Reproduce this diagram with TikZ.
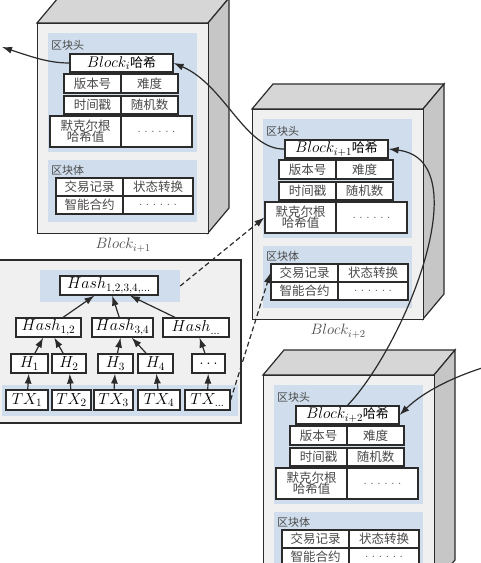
\RequirePackage{fix-cm}
\documentclass[tikz,border=0pt]{standalone}
\usepackage{fontspec}
\newfontfamily\cjk{Noto Sans CJK SC}
\usetikzlibrary{positioning,arrows.meta}

\definecolor{frontc}{HTML}{F0F0F0}
\definecolor{topc}{HTML}{D6D6D6}
\definecolor{sidec}{HTML}{C6C6C6}
\definecolor{bluec}{HTML}{CFDDEC}
\definecolor{linec}{HTML}{2B2B2B}
\definecolor{textc}{HTML}{4A4A4A}
\definecolor{panelc}{HTML}{F0F0F0}

\newcommand{\sixdots}{{\rmfamily\fontsize{15}{15}\selectfont .\hspace{3.2pt}.\hspace{3.2pt}.\hspace{3.2pt}.\hspace{3.2pt}.\hspace{3.2pt}.}}
\newcommand{\bigmath}[1]{{\fontsize{15.5}{16}\selectfont$#1$}}

% one block of the chain: x, y, name prefix, subscript of its hash
\newcommand{\chainblock}[4]{%
\begin{scope}[shift={(#1,#2)}, name prefix=#3-]
	\draw[face, fill=topc] (0,0) -- (21,-25) -- (192,-25) -- (171,0) -- cycle;
	\draw[face, fill=sidec] (171,0) -- (192,-25) -- (192,185) -- (171,210) -- cycle;
	\node[face, fill=frontc, minimum width=171, minimum height=210, anchor=north west] (front) at (0,0) {};
	\fill[bluec] (11,10) rectangle (160,129);
	\fill[bluec] (11,137) rectangle (160,199);
	
	\node[region, anchor=west] (headlab) at (14,22) {区块头};
	\node[hcell, minimum width=103] (hash) at (84.5,40) {\bigmath{Block_{#4}}哈希};
	\node[cell, minimum width=57, minimum height=19] (ver) at (55.5,60.5) {版本号};
	\node[cell, minimum width=57, minimum height=19] (diff) at (112.5,60.5) {难度};
	\node[cell, minimum width=57] (time) at (55.5,82) {时间戳};
	\node[cell, minimum width=57] (nonce) at (112.5,82) {随机数};
	\node[cell, minimum width=71, minimum height=31, align=center] (merkle) at (48.5,108.5) {默克尔根\\[-2pt]哈希值};
	\node[cell, minimum width=71, minimum height=31] (more) at (119.5,108.5) {\sixdots};
	
	\node[region, anchor=west] (bodylab) at (14,147) {区块体};
	\node[cell, minimum width=67] (rec) at (52.5,164) {交易记录};
	\node[cell, minimum width=70] (state) at (121,164) {状态转换};
	\node[cell, minimum width=67] (contract) at (52.5,182) {智能合约};
	\node[cell, minimum width=70] (rest) at (121,182) {\sixdots};
\end{scope}}

\begin{document}
\begin{tikzpicture}[x=1pt, y=-1pt,
	face/.style={draw=linec, line width=1.2pt},
	cell/.style={draw=linec, fill=white, line width=1.2pt, inner sep=0pt, minimum height=18, text=textc, font=\cjk\fontsize{12.5}{13}\selectfont},
	hcell/.style={cell, text=black, font=\cjk\fontsize{13}{14}\selectfont},
	mcell/.style={cell, text=black, minimum height=19, font=\fontsize{16}{17}\selectfont},
	region/.style={inner sep=0pt, text=textc, font=\cjk\fontsize{11}{13}\selectfont},
	band/.style={fill=bluec, draw=none, inner sep=0pt},
	caption/.style={inner sep=0pt, text=textc, font=\fontsize{15}{16}\selectfont},
	link/.style={-{Latex[length=10pt,width=7pt]}, line width=1.2pt, draw=linec},
	dlink/.style={link, dash pattern=on 5pt off 3pt}]
	\useasboundingbox (0,0) rectangle (480,563);
	
	\chainblock{37}{23}{b1}{i}
	\chainblock{252}{109}{b2}{i+1}
	\chainblock{263}{375}{b3}{i+2}
	
	\node[caption, below=4pt of b1-front] (cap1) {$Block_{i+1}$};
	\node[caption, below=4pt of b2-front] (cap2) {$Block_{i+2}$};
	
	\draw[face, fill=panelc] (-5,260) rectangle (241,423);
	\node[band, minimum width=140, minimum height=32] (rootband) at (110,286) {};
	\node[band, minimum width=236, minimum height=31] (txband) at (120,400.5) {};
	
	\node[mcell, minimum width=98] (root) at (109,285.5) {$Hash_{1,2,3,4,\ldots}$};
	\node[mcell, minimum width=65] (h12) at (48.5,327.5) {$Hash_{1,2}$};
	\node[mcell, minimum width=61] (h34) at (122.5,327.5) {$Hash_{3,4}$};
	\node[mcell, minimum width=66] (hn) at (196,327.5) {$Hash_{\ldots}$};
	
	\node[mcell, minimum width=37] (ha) at (29.5,363.5) {$H_1$};
	\node[mcell, minimum width=34] (hb) at (69,363.5) {$H_2$};
	\node[mcell, minimum width=35] (hc) at (115.5,363.5) {$H_3$};
	\node[mcell, minimum width=35] (hd) at (155.5,363.5) {$H_4$};
	\node[mcell, minimum width=33] (he) at (208.5,363.5) {$\ldots$};
	
	\node[mcell, minimum width=42, minimum height=20] (tx1) at (27,400) {$TX_1$};
	\node[mcell, minimum width=39, minimum height=20] (tx2) at (71.5,400) {$TX_2$};
	\node[mcell, minimum width=39, minimum height=20] (tx3) at (113.5,400) {$TX_3$};
	\node[mcell, minimum width=42, minimum height=20] (tx4) at (159,400) {$TX_4$};
	\node[mcell, minimum width=45, minimum height=20] (txn) at (207.5,400) {$TX_{\ldots}$};
	
	\draw[link] (tx1) -- (ha);
	\draw[link] (tx2) -- (hb);
	\draw[link] (tx3) -- (hc);
	\draw[link] (tx4) -- (hd);
	\draw[link] (txn) -- (he);
	\draw[link] (ha) -- (h12);
	\draw[link] (hb) -- (h12);
	\draw[link] (hc) -- (h34);
	\draw[link] (hd) -- (h34);
	\draw[link] (he) -- (hn);
	\draw[link] (h12) -- (root);
	\draw[link] (h34) -- (root);
	\draw[link] (hn) -- (root);
	
	\draw[dlink] (rootband.east) -- (b2-merkle.west);
	\draw[dlink] (txn.east) -- (b2-rec.west);
	
	\coordinate (outl) at (2,47);
	\coordinate (outr) at (482,368);
	\draw[link] (b1-hash.west) .. controls (50,63) and (35,58) .. (outl);
	\draw[link] (b2-hash.west) .. controls (245,150) and (225,85) .. (b1-hash.east);
	\draw[link] (b3-hash.north) .. controls (405,345) and (480,160) .. (b2-hash.east);
	\draw[link] (outr) .. controls (445,380) and (420,395) .. (b3-hash.east);
\end{tikzpicture}
\end{document}
